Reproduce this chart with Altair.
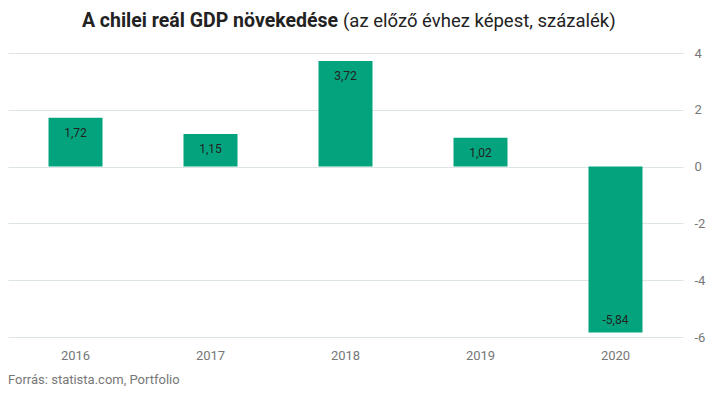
import altair as alt
import pandas as pd

years = ["2016", "2017", "2018", "2019", "2020"]
growth = [1.72, 1.15, 3.72, 1.02, -5.84]
labels = [f"{v:.2f}".replace(".", ",") for v in growth]
title_bold = "A chilei reál GDP növekedése"
title_rest = "(az előző évhez képest, százalék)"
source = "Forrás: statista.com, Portfolio"

df = pd.DataFrame({"year": years, "growth": growth, "label": labels})
one = pd.DataFrame({"t": [0]})

FONT = "Roboto"
GREEN = "#03a47d"

base = alt.Chart(df)

x = alt.X("year:N", sort=years, title=None,
          scale=alt.Scale(paddingInner=0.6, paddingOuter=0.3),
          axis=alt.Axis(labelAngle=0, ticks=False, domain=False, grid=False,
                        labelPadding=12, labelColor="#777", labelFontSize=13,
                        labelFont=FONT))
y = alt.Y("growth:Q", title=None,
          scale=alt.Scale(domain=[-6, 4], nice=False),
          axis=alt.Axis(orient="right", values=[-6, -4, -2, 0, 2, 4], ticks=False,
                        domain=False, grid=True, gridColor="#dde4e4",
                        labelPadding=11, labelColor="#777", labelFontSize=13,
                        labelFont=FONT, labelAlign="left",
                        labelExpr="'' + datum.value"))

bars = base.mark_bar(color=GREEN).encode(x=x, y=y)

pos_txt = base.transform_filter("datum.growth >= 0").mark_text(
    dy=15, font=FONT, fontSize=12, color="#222"
).encode(x=alt.X("year:N", sort=years), y="growth:Q", text="label:N")

neg_txt = base.transform_filter("datum.growth < 0").mark_text(
    dy=-12, font=FONT, fontSize=12, color="#222"
).encode(x=alt.X("year:N", sort=years), y="growth:Q", text="label:N")

t1 = alt.Chart(one).mark_text(align="right", baseline="alphabetic", font=FONT,
                              fontSize=19.5, fontWeight="bold", color="#222").encode(
    x=alt.value(330), y=alt.value(-26), text=alt.value(title_bold))
t2 = alt.Chart(one).mark_text(align="left", baseline="alphabetic", font=FONT,
                              fontSize=18.5, color="#222").encode(
    x=alt.value(335), y=alt.value(-26), text=alt.value(title_rest))
src = alt.Chart(one).mark_text(align="left", baseline="middle", font=FONT,
                               fontSize=13, color="#777").encode(
    x=alt.value(0), y=alt.value(327), text=alt.value(source))

chart = alt.layer(bars, pos_txt, neg_txt, t1, t2, src).properties(
    width=675, height=284,
    background="white",
    autosize=alt.AutoSizeParams(type="none"),
    padding={"left": 0, "top": 45, "right": 23, "bottom": 51},
).configure_view(stroke="transparent", strokeWidth=0)

chart.save("out.html", embed_options={"renderer": "svg", "actions": False})
